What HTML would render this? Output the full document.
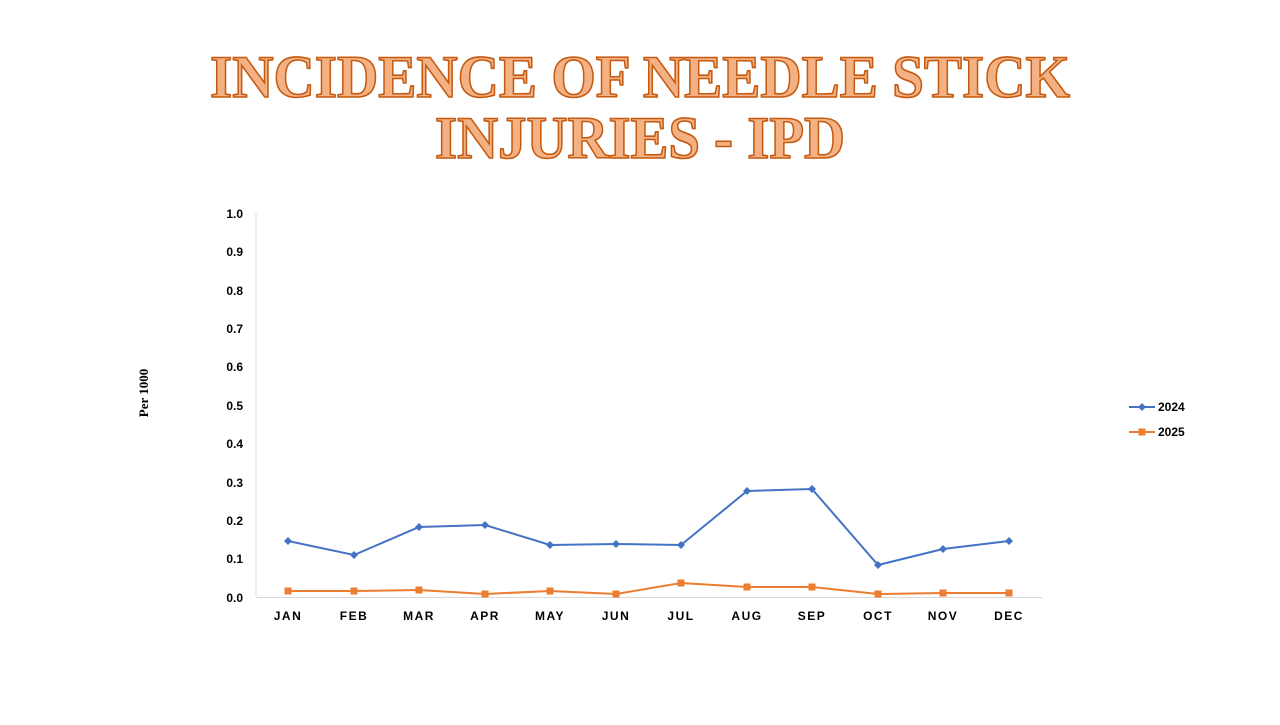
<!DOCTYPE html>
<html><head><meta charset="utf-8"><style>
body{margin:0;width:1280px;height:720px;background:#fff;overflow:hidden}
</style></head><body>
<svg width="1280" height="720" xmlns="http://www.w3.org/2000/svg">
<g font-family="Liberation Serif, serif" font-weight="bold" font-size="60" fill="#f4b183" stroke="#c55a11" stroke-width="1.6" text-anchor="middle">
<text x="640" y="97" textLength="860" lengthAdjust="spacingAndGlyphs">INCIDENCE OF NEEDLE STICK</text>
<text x="640" y="158" textLength="410" lengthAdjust="spacingAndGlyphs">INJURIES - IPD</text>
</g>
<line x1="256" y1="213" x2="256" y2="597" stroke="#d9d9d9"/>
<line x1="256" y1="597.5" x2="1042" y2="597.5" stroke="#d9d9d9"/>
<g font-family="Liberation Sans, sans-serif" font-weight="bold" font-size="12" fill="#000" text-anchor="end">
<text x="243" y="218">1.0</text><text x="243" y="256">0.9</text><text x="243" y="295">0.8</text><text x="243" y="333">0.7</text><text x="243" y="371">0.6</text><text x="243" y="410">0.5</text><text x="243" y="448">0.4</text><text x="243" y="487">0.3</text><text x="243" y="525">0.2</text><text x="243" y="563">0.1</text><text x="243" y="602">0.0</text>
</g>
<g font-family="Liberation Sans, sans-serif" font-weight="bold" font-size="12" fill="#000" text-anchor="middle" letter-spacing="1.5">
<text x="288" y="620">JAN</text><text x="354" y="620">FEB</text><text x="419" y="620">MAR</text><text x="485" y="620">APR</text><text x="550" y="620">MAY</text><text x="616" y="620">JUN</text><text x="681" y="620">JUL</text><text x="747" y="620">AUG</text><text x="812" y="620">SEP</text><text x="878" y="620">OCT</text><text x="943" y="620">NOV</text><text x="1009" y="620">DEC</text>
</g>
<text x="148" y="393" transform="rotate(-90 148 393)" font-family="Liberation Serif, serif" font-weight="bold" font-size="13" text-anchor="middle">Per 1000</text>
<polyline fill="none" stroke="#4472c4" stroke-width="2" points="288,541 354,555 419,527 485,525 550,545 616,544 681,545 747,491 812,489 878,565 943,549 1009,541"/>
<g fill="#4472c4">
<path d="M288,537l4,4l-4,4l-4,-4z"/><path d="M354,551l4,4l-4,4l-4,-4z"/><path d="M419,523l4,4l-4,4l-4,-4z"/><path d="M485,521l4,4l-4,4l-4,-4z"/><path d="M550,541l4,4l-4,4l-4,-4z"/><path d="M616,540l4,4l-4,4l-4,-4z"/><path d="M681,541l4,4l-4,4l-4,-4z"/><path d="M747,487l4,4l-4,4l-4,-4z"/><path d="M812,485l4,4l-4,4l-4,-4z"/><path d="M878,561l4,4l-4,4l-4,-4z"/><path d="M943,545l4,4l-4,4l-4,-4z"/><path d="M1009,537l4,4l-4,4l-4,-4z"/>
</g>
<polyline fill="none" stroke="#ed7d31" stroke-width="2" points="288,591 354,591 419,590 485,594 550,591 616,594 681,583 747,587 812,587 878,594 943,593 1009,593"/>
<g fill="#ed7d31">
<rect x="284.5" y="587.5" width="7" height="7"/><rect x="350.5" y="587.5" width="7" height="7"/><rect x="415.5" y="586.5" width="7" height="7"/><rect x="481.5" y="590.5" width="7" height="7"/><rect x="546.5" y="587.5" width="7" height="7"/><rect x="612.5" y="590.5" width="7" height="7"/><rect x="677.5" y="579.5" width="7" height="7"/><rect x="743.5" y="583.5" width="7" height="7"/><rect x="808.5" y="583.5" width="7" height="7"/><rect x="874.5" y="590.5" width="7" height="7"/><rect x="939.5" y="589.5" width="7" height="7"/><rect x="1005.5" y="589.5" width="7" height="7"/>
</g>
<line x1="1129" y1="407" x2="1155" y2="407" stroke="#4472c4" stroke-width="2"/>
<path d="M1142,403l4,4l-4,4l-4,-4z" fill="#4472c4"/>
<line x1="1129" y1="432" x2="1155" y2="432" stroke="#ed7d31" stroke-width="2"/>
<rect x="1138.5" y="428.5" width="7" height="7" fill="#ed7d31"/>
<g font-family="Liberation Sans, sans-serif" font-weight="bold" font-size="12">
<text x="1158" y="411">2024</text><text x="1158" y="436">2025</text>
</g>
</svg>
</body></html>
